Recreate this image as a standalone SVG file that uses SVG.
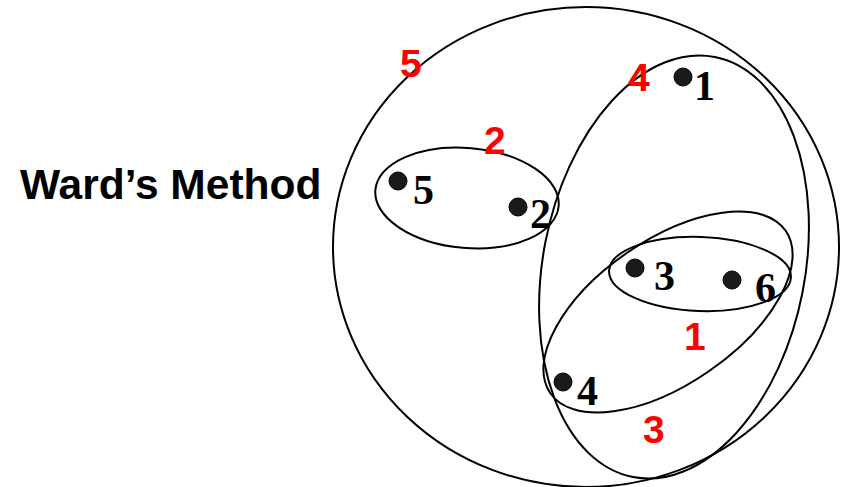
<svg xmlns="http://www.w3.org/2000/svg" width="850" height="487" viewBox="0 0 850 487">
  <style>
    .ring { fill: none; stroke: #000; stroke-width: 2; }
    .pt { fill: #1a1a1a; stroke: #000; stroke-width: 1; }
    .lbl { font-family: "Liberation Serif", "Times New Roman", serif; font-weight: bold; font-size: 42px; fill: #000; }
    .step { font-family: "Liberation Sans", Arial, sans-serif; font-weight: bold; font-size: 39px; fill: #ff0000; }
    .title { font-family: "Liberation Sans", Arial, sans-serif; font-weight: bold; font-size: 42.5px; fill: #000; }
  </style>
  <rect width="850" height="487" fill="#fff"/>

  <text id="title" class="title" x="20" y="199">Ward’s Method</text>

  <!-- cluster boundaries, merge order shown in red -->
  <g id="clusters">
    <g id="cluster5">
      <ellipse class="ring" cx="586" cy="247" rx="253" ry="240"/>
      <text class="step" x="400" y="77">5</text>
    </g>
    <g id="cluster4">
      <ellipse class="ring" cx="674" cy="267" rx="131" ry="214" transform="rotate(11 674 267)"/>
      <text class="step" x="628" y="91">4</text>
    </g>
    <g id="cluster3">
      <ellipse class="ring" cx="668" cy="312" rx="143" ry="72" transform="rotate(-34.6 668 312)"/>
      <text class="step" x="643" y="443">3</text>
    </g>
    <g id="cluster2">
      <ellipse class="ring" cx="467" cy="198" rx="92" ry="50" transform="rotate(5 467 198)"/>
      <text class="step" x="484" y="154">2</text>
    </g>
    <g id="cluster1">
      <ellipse class="ring" cx="700" cy="274" rx="91" ry="37" transform="rotate(2 700 274)"/>
      <text class="step" x="684" y="350">1</text>
    </g>
  </g>

  <!-- data points -->
  <g id="p1"><circle class="pt" cx="683" cy="77" r="9"/><text class="lbl" x="694" y="100">1</text></g>
  <g id="p2"><circle class="pt" cx="518" cy="207" r="9"/><text class="lbl" x="530" y="228">2</text></g>
  <g id="p3"><circle class="pt" cx="635" cy="268" r="9"/><text class="lbl" x="654" y="290">3</text></g>
  <g id="p4"><circle class="pt" cx="563" cy="382" r="9"/><text class="lbl" x="577" y="405">4</text></g>
  <g id="p5"><circle class="pt" cx="398" cy="181" r="9"/><text class="lbl" x="413" y="204">5</text></g>
  <g id="p6"><circle class="pt" cx="732" cy="280" r="9"/><text class="lbl" x="755" y="302">6</text></g>
</svg>
